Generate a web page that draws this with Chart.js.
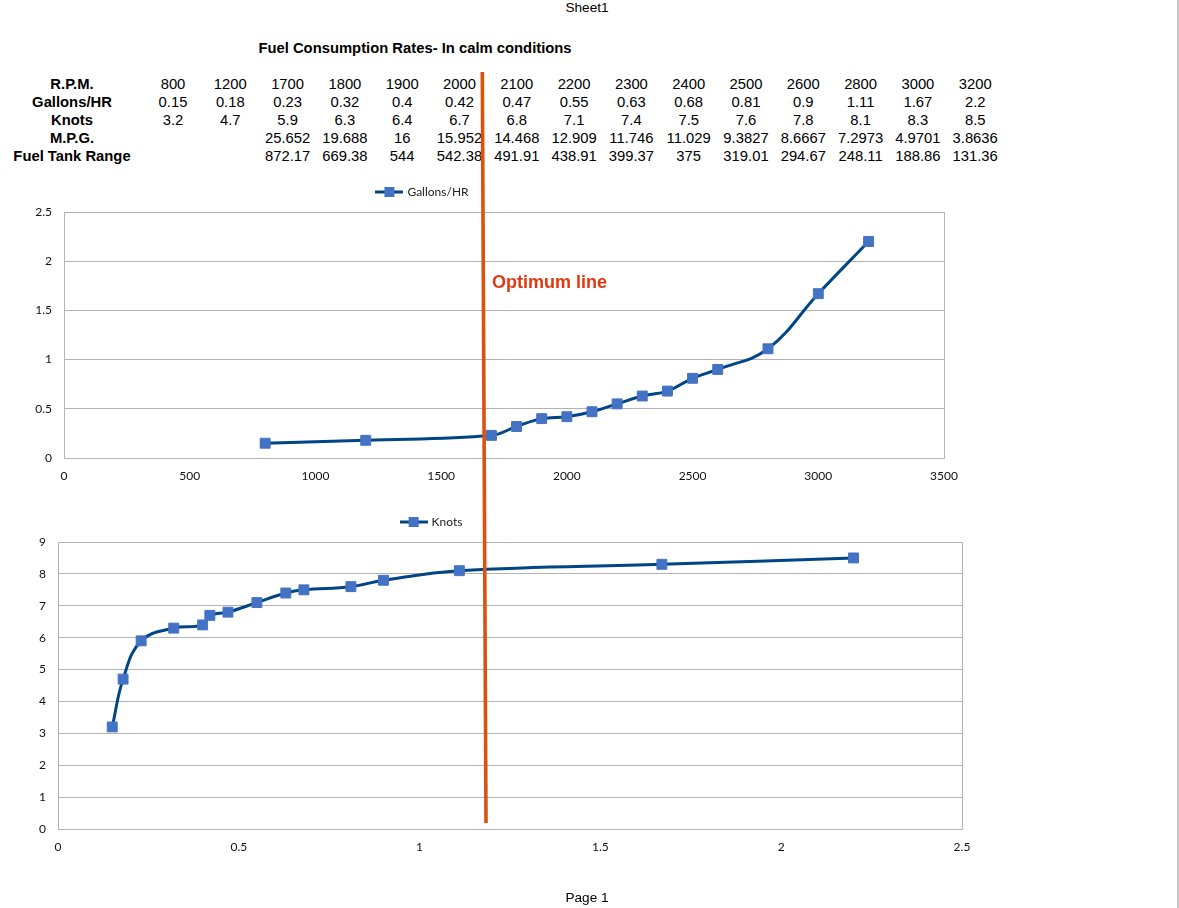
<!DOCTYPE html>
<html>
  <head>
    <meta charset="UTF-8">
    <title>Fuel Consumption Rates</title>
    <script src="https://cdn.jsdelivr.net/npm/chart.js"></script>
    <style>
      body { margin: 0; background: #fff; }
      #page { position: relative; width: 1179px; height: 908px; overflow: hidden; font-family: "Liberation Sans", Arial, sans-serif; color: #000; }
      .t { position: absolute; transform: translate(-50%, -50%); white-space: nowrap; line-height: 1; font-size: 14.8px; }
      .s { font-size: 13.6px; }
      .b { font-weight: bold; }
      canvas { position: absolute; left: 0; }
    </style>
  </head>
  <body>
    <div id="page">
      <div class="t s" style="left:587px; top:8px;">Sheet1</div>
      <div class="t b" style="left:415px; top:48px;">Fuel Consumption Rates- In calm conditions</div>
      <div id="table"></div>
      <canvas id="gphChart" width="1000" height="302" style="top:186px;"></canvas>
      <canvas id="knotsChart" width="1000" height="343" style="top:516px;"></canvas>
      <div style="position:absolute; left:492px; top:273px; font:bold 18px 'Liberation Sans', Arial, sans-serif; line-height:18px; color:#e2380f;">Optimum line</div>
      <svg style="position:absolute; left:0; top:0; pointer-events:none;" width="1179" height="908">
        <line x1="482.3" y1="72" x2="486" y2="823" stroke="#d9530f" stroke-width="3.6"/>
      </svg>
      <div style="position:absolute; left:1177px; top:0; width:2px; height:908px; background:#c8c8c8;"></div>
      <div class="t s" style="left:587px; top:898px;">Page 1</div>
    </div>
    <script>
      const rowLabels = ['R.P.M.', 'Gallons/HR', 'Knots', 'M.P.G.', 'Fuel Tank Range'];
      const rpm = [800, 1200, 1700, 1800, 1900, 2000, 2100, 2200, 2300, 2400, 2500, 2600, 2800, 3000, 3200];
      const gallonsPerHour = [0.15, 0.18, 0.23, 0.32, 0.4, 0.42, 0.47, 0.55, 0.63, 0.68, 0.81, 0.9, 1.11, 1.67, 2.2];
      const knots = [3.2, 4.7, 5.9, 6.3, 6.4, 6.7, 6.8, 7.1, 7.4, 7.5, 7.6, 7.8, 8.1, 8.3, 8.5];
      const mpg = ['', '', '25.652', '19.688', '16', '15.952', '14.468', '12.909', '11.746', '11.029', '9.3827', '8.6667', '7.2973', '4.9701', '3.8636'];
      const tankRange = ['', '', '872.17', '669.38', '544', '542.38', '491.91', '438.91', '399.37', '375', '319.01', '294.67', '248.11', '188.86', '131.36'];

      // spreadsheet block above the charts
      const rows = [rpm, gallonsPerHour, knots, mpg, tankRange];
      let html = '';
      rowLabels.forEach((label, r) => {
        const y = 84 + r * 18;
        html += '<div class="t b" style="left:72px; top:' + y + 'px;">' + label + '</div>';
        rows[r].forEach((v, c) => {
          if (v === '') return;
          html += '<div class="t" style="left:' + (173 + c * 57.3) + 'px; top:' + y + 'px;">' + v + '</div>';
        });
      });
      document.getElementById('table').innerHTML = html;

      // legend icon: line with square marker
      const icon = document.createElement('canvas');
      icon.width = 28; icon.height = 12;
      const ic = icon.getContext('2d');
      ic.strokeStyle = '#004586'; ic.lineWidth = 3;
      ic.beginPath(); ic.moveTo(0, 6); ic.lineTo(28, 6); ic.stroke();
      ic.fillStyle = '#4472c4'; ic.fillRect(9, 1, 10, 10);

      // move legend to where the spreadsheet put it
      const legendShift = {
        id: 'legendShift',
        afterLayout(chart, args, opts) {
          const lg = chart.legend;
          lg.left += opts.dx; lg.right += opts.dx;
          lg.top += opts.dy; lg.bottom += opts.dy;
        }
      };

      const grid = '#b3b3b3';
      const tickFont = { family: 'Lato', size: 12 };
      const fmt = v => String(+v.toFixed(2));

      function makeChart(id, xs, ys, label, xMax, xStep, yMax, yStep, yWidth, padRight, dx) {
        new Chart(document.getElementById(id), {
          type: 'line',
          data: {
            datasets: [{
              label: label,
              data: xs.map((x, i) => ({ x: x, y: ys[i] })),
              borderColor: '#004586',
              borderWidth: 3,
              tension: 0.4,
              pointStyle: 'rect',
              pointRadius: 7,
              pointBackgroundColor: '#4472c4',
              pointBorderColor: '#4472c4',
              pointBorderWidth: 1
            }]
          },
          options: {
            responsive: false,
            animation: false,
            layout: { padding: { left: 0, right: padRight, top: 0, bottom: 0 } },
            scales: {
              x: {
                type: 'linear', min: 0, max: xMax,
                ticks: { stepSize: xStep, font: tickFont, color: '#111', padding: 11, callback: fmt, maxRotation: 0 },
                grid: { drawTicks: false, color: c => (c.tick && (c.tick.value === 0 || c.tick.value === xMax)) ? grid : 'rgba(0,0,0,0)' },
                border: { color: grid },
                afterFit: s => { s.height = 30; }
              },
              y: {
                min: 0, max: yMax,
                ticks: { stepSize: yStep, font: tickFont, color: '#111', padding: 12, callback: fmt },
                grid: { drawTicks: false, color: grid },
                border: { color: grid },
                afterFit: s => { s.width = yWidth; }
              }
            },
            plugins: {
              legend: {
                position: 'top',
                labels: {
                  usePointStyle: true,
                  pointStyle: icon,
                  pointStyleWidth: 24,
                  padding: 4,
                  font: { family: 'Lato', size: 12 },
                  color: '#222'
                }
              },
              legendShift: { dx: dx, dy: -4 },
              tooltip: { enabled: false }
            }
          },
          plugins: [legendShift]
        });
      }

      makeChart('gphChart', rpm, gallonsPerHour, 'Gallons/HR', 3500, 500, 2.5, 0.5, 64, 56, -49);
      makeChart('knotsChart', gallonsPerHour, knots, 'Knots', 2.5, 0.5, 9, 1, 58, 38, -49);
    </script>
  </body>
</html>
